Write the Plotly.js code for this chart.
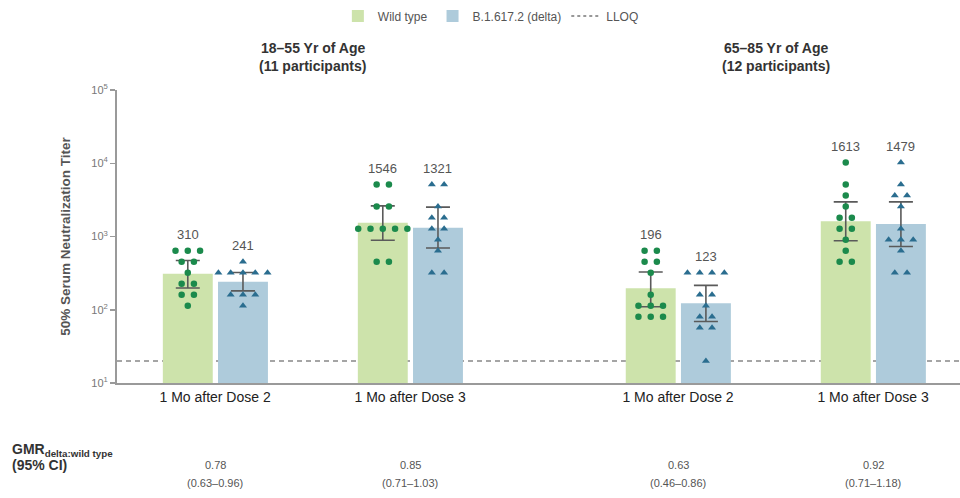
<!DOCTYPE html>
<html>
<head>
<meta charset="utf-8">
<script src="https://cdn.plot.ly/plotly-3.0.1.min.js"></script>
<style>html,body{margin:0;padding:0;background:#fff;} #chart{width:960px;height:498px;}</style>
</head>
<body>
<div id="chart"></div>
<script>
// ---- data ----
const categories = ["1 Mo after Dose 2", "1 Mo after Dose 3", "1 Mo after Dose 2", "1 Mo after Dose 3"];
const groupTitles = ["18\u201355 Yr of Age", "65\u201385 Yr of Age"];
const groupSubtitles = ["(11 participants)", "(12 participants)"];
const gmtWild = [310, 1546, 196, 1613];
const gmtDelta = [241, 1321, 123, 1479];
const ciWildLow = [198, 890, 110, 873];
const ciWildHigh = [470, 2620, 327, 2970];
const ciDeltaLow = [181, 695, 69, 731];
const ciDeltaHigh = [323, 2520, 215, 2970];
const pointsWild = [
  [640, 640, 640, 453, 453, 320, 226, 226, 160, 160, 113],
  [5120, 5120, 2560, 2560, 1280, 1280, 1280, 1280, 1280, 453, 453],
  [640, 640, 453, 453, 320, 160, 113, 113, 113, 80, 80, 80],
  [10240, 5120, 3620, 2560, 1810, 1810, 1280, 1280, 905, 640, 453, 453]
];
const pointsDelta = [
  [453, 320, 320, 320, 320, 320, 160, 160, 160, 113],
  [5120, 5120, 2560, 1810, 1810, 1280, 1280, 905, 640, 320, 320],
  [320, 320, 320, 320, 160, 160, 113, 80, 80, 57, 57, 20],
  [10240, 5120, 3620, 3620, 2560, 1280, 905, 905, 905, 640, 320, 320]
];
const gmrValues = ["0.78", "0.85", "0.63", "0.92"];
const gmrCI = ["(0.63\u20130.96)", "(0.71\u20131.03)", "(0.46\u20130.86)", "(0.71\u20131.18)"];
const lloq = 20;
const yTickVals = [10, 100, 1000, 10000, 100000];
const yTickText = ["10<sup>1</sup>", "10<sup>2</sup>", "10<sup>3</sup>", "10<sup>4</sup>", "10<sup>5</sup>"];

// ---- layout helpers ----
const positions = [0, 1, 2.374, 3.374];
const barWidth = 0.256;
const wildOffset = -0.268, deltaOffset = 0.015;
const wildCenter = wildOffset + barWidth / 2;
const deltaCenter = deltaOffset + barWidth / 2;
const jitter = 0.063;
const FONT = "Liberation Sans Narrow, Liberation Sans, Arial, sans-serif";

function swarm(vals, center) {
  const xs = [], ys = [];
  const counts = {};
  vals.forEach(v => counts[v] = (counts[v] || 0) + 1);
  const seen = {};
  vals.forEach(v => {
    const n = counts[v];
    const i = seen[v] || 0; seen[v] = i + 1;
    xs.push(center + (i - (n - 1) / 2) * jitter);
    ys.push(v);
  });
  return {xs, ys};
}

const wildColor = "#cde3ab", deltaColor = "#aecbdb";
const traces = [];
traces.push({
  type: "bar", name: "Wild type", x: positions, y: gmtWild,
  width: barWidth, offset: wildOffset,
  marker: {color: wildColor, line: {width: 0}},
  error_y: {type: "data", symmetric: false,
    array: gmtWild.map((g, i) => ciWildHigh[i] - g),
    arrayminus: gmtWild.map((g, i) => g - ciWildLow[i]),
    color: "#5a5a5a", thickness: 1.6, width: 12},
  hoverinfo: "skip"
});
traces.push({
  type: "bar", name: "B.1.617.2 (delta)", x: positions, y: gmtDelta,
  width: barWidth, offset: deltaOffset,
  marker: {color: deltaColor, line: {width: 0}},
  error_y: {type: "data", symmetric: false,
    array: gmtDelta.map((g, i) => ciDeltaHigh[i] - g),
    arrayminus: gmtDelta.map((g, i) => g - ciDeltaLow[i]),
    color: "#5a5a5a", thickness: 1.6, width: 12},
  hoverinfo: "skip"
});
traces.push({
  type: "scatter", mode: "lines", name: "LLOQ", x: [null], y: [null],
  line: {color: "#777", width: 1.5, dash: "3px,3px"}
});
pointsWild.forEach((vals, i) => {
  const s = swarm(vals, positions[i] + wildCenter);
  traces.push({type: "scatter", mode: "markers", x: s.xs, y: s.ys, showlegend: false,
    marker: {symbol: "circle", size: 6.5, color: "#1b8a4c"}, hoverinfo: "y"});
});
pointsDelta.forEach((vals, i) => {
  const s = swarm(vals, positions[i] + deltaCenter);
  traces.push({type: "scatter", mode: "markers", x: s.xs, y: s.ys, showlegend: false,
    marker: {symbol: "triangle-up", size: 7, color: "#2a6d8f"}, hoverinfo: "y"});
});

const annotations = [];
positions.forEach((p, i) => {
  annotations.push({x: p + wildCenter, y: Math.log10(Math.max(...pointsWild[i])), xref: "x", yref: "y",
    text: String(gmtWild[i]), showarrow: false, yshift: 16, yanchor: "middle",
    font: {size: 13, color: "#555", family: FONT}});
  annotations.push({x: p + deltaCenter, y: Math.log10(Math.max(...pointsDelta[i])), xref: "x", yref: "y",
    text: String(gmtDelta[i]), showarrow: false, yshift: 16, yanchor: "middle",
    font: {size: 13, color: "#555", family: FONT}});
  annotations.push({x: p, y: -0.2786, xref: "x", yref: "paper", yanchor: "middle", text: gmrValues[i], showarrow: false,
    font: {size: 11, color: "#555", family: FONT}});
  annotations.push({x: p, y: -0.34, xref: "x", yref: "paper", yanchor: "middle", text: gmrCI[i], showarrow: false,
    font: {size: 11, color: "#555", family: FONT}});
});
[0, 1].forEach(g => {
  const cx = (positions[2 * g] + positions[2 * g + 1]) / 2;
  annotations.push({x: cx, y: 1.1432, xref: "x", yref: "paper", yanchor: "middle", text: "<b>" + groupTitles[g] + "</b>",
    showarrow: false, font: {size: 14, color: "#333", family: FONT}});
  annotations.push({x: cx, y: 1.0818, xref: "x", yref: "paper", yanchor: "middle", text: "<b>" + groupSubtitles[g] + "</b>",
    showarrow: false, font: {size: 14, color: "#333", family: FONT}});
});
annotations.push({x: -0.127, y: -0.228, xref: "paper", yref: "paper", xanchor: "left", yanchor: "middle",
  text: "<b>GMR<sub>delta:wild type</sub></b>", showarrow: false, font: {size: 14, color: "#333", family: FONT}});
annotations.push({x: -0.127, y: -0.2786, xref: "paper", yref: "paper", xanchor: "left", yanchor: "middle",
  text: "<b>(95% CI)</b>", showarrow: false, font: {size: 14, color: "#333", family: FONT}});

const layout = {
  width: 960, height: 498,
  margin: {l: 117, r: 0, t: 90, b: 115},
  paper_bgcolor: "#fff", plot_bgcolor: "#fff",
  font: {family: FONT, color: "#333"},
  showlegend: true,
  legend: {orientation: "h", x: 0.262, xanchor: "left", yref: "container", y: 0.968, yanchor: "middle",
    font: {size: 12, color: "#555", family: FONT}, itemwidth: 30, traceorder: "normal"},
  xaxis: {range: [-0.503, 3.82], tickvals: positions, ticktext: categories, showline: true,
    linecolor: "#9a9a9a", linewidth: 2, ticks: "", showgrid: false, zeroline: false,
    tickfont: {size: 14, color: "#222", family: FONT}, fixedrange: true},
  yaxis: {type: "log", range: [1, 5], tickvals: yTickVals, ticktext: yTickText, showline: true,
    linecolor: "#9a9a9a", linewidth: 2, ticks: "outside", ticklen: 5, tickcolor: "#9a9a9a", tickwidth: 1.5,
    showgrid: false, zeroline: false, tickfont: {size: 11, color: "#777", family: FONT},
    title: {text: "<b>50% Serum Neutralization Titer</b>", font: {size: 13.5, color: "#555", family: FONT}, standoff: 18},
    fixedrange: true},
  shapes: [{type: "line", xref: "paper", x0: 0, x1: 1, yref: "y", y0: lloq, y1: lloq,
    layer: "below", line: {color: "#888", width: 1.5, dash: "5px,4px"}}],
  annotations: annotations
};
Plotly.newPlot("chart", traces, layout, {displayModeBar: false, staticPlot: true});
</script>
</body>
</html>
